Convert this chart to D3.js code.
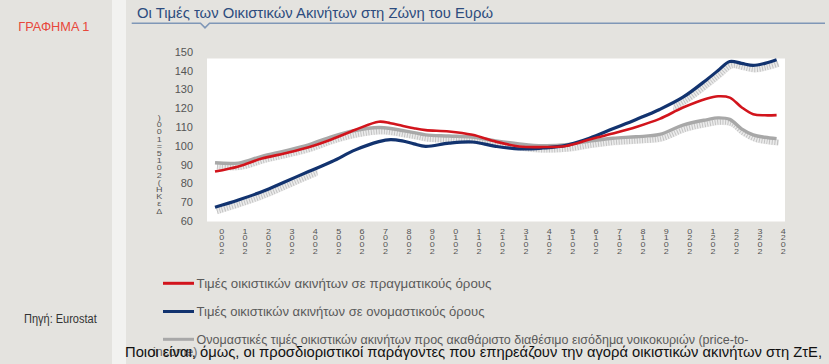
<!DOCTYPE html>
<html><head><meta charset="utf-8">
<script src="https://cdn.jsdelivr.net/npm/d3@7/dist/d3.min.js"></script>
<style>
html,body{margin:0;padding:0;background:#e4e3df;}
svg{display:block;font-family:"Liberation Sans",Arial,sans-serif;}
</style></head>
<body>
<svg id="c" width="829" height="364"></svg>
<script>
// ---- data ----
const periods = [2000,2001,2002,2003,2004,2005,2006,2007,2007.5,2008,2008.5,2009,2010,2011,2012,2013,2014,2015,2016,2017,2018,2019,2020,2021,2021.5,2022,2022.5,2023,2023.5,2024];
const realPrices = [86.3,89.0,93.2,96.0,99.2,103.5,108.5,112.8,112.0,110.6,109.3,108.3,107.6,105.8,102.2,99.6,99.3,99.9,103.3,106.5,110.0,114.3,120.3,125.0,126.3,125.6,120.5,116.8,116.2,116.3];
const nominalPrices = [67.3,71.2,75.6,80.9,86.3,91.6,97.8,102.2,103.3,102.6,101.0,99.7,101.4,102.0,99.7,98.3,98.8,100.2,104.0,109.0,114.0,119.3,125.8,135.0,140.0,144.8,143.8,142.7,143.8,145.7];
const priceToIncome = [91.0,90.8,94.4,97.3,100.5,104.9,108.1,109.7,109.2,108.1,107.0,105.8,105.2,104.6,102.6,101.0,100.0,100.5,102.5,104.0,104.8,106.0,111.0,113.8,114.8,114.0,109.0,105.8,104.5,103.8];
const yTicks = [60,70,80,90,100,110,120,130,140,150];
const yearLabels = ["2000","2001","2002","2003","2004","2005","2006","2007","2008","2009","2010","2011","2012","2013","2014","2015","2016","2017","2018","2019","2020","2021","2022","2023","2024"];
const yAxisLabel = "ΔεΚΗ(2015=100)";
const legendLabels = [
  "Τιμές οικιστικών ακινήτων σε πραγματικούς όρους",
  "Τιμές οικιστικών ακινήτων σε ονομαστικούς όρους",
  "Ονομαστικές τιμές οικιστικών ακινήτων προς ακαθάριστο διαθέσιμο εισόδημα νοικοκυριών (price-to-"
];
const legendWrap = "income)";
const titleText = "Οι Τιμές των Οικιστικών Ακινήτων στη Ζώνη του Ευρώ";
const chartNo = "ΓΡΑΦΗΜΑ 1";
const sourceText = "Πηγή: Eurostat";
const bodyText = "Ποιοι είναι, όμως, οι προσδιοριστικοί παράγοντες που επηρεάζουν την αγορά οικιστικών ακινήτων στη ΖτΕ,";

// ---- layout ----
const svg = d3.select("#c");
const colors = {red:"#d2141c", blue:"#12336f", gray:"#a8a8a8"};

svg.append("rect").attr("width",829).attr("height",364).attr("fill","#e4e3df");
svg.append("rect").attr("x",112).attr("y",0).attr("width",14).attr("height",364).attr("fill","#f2f2f0");

// header
svg.append("text").attr("x",18.3).attr("y",31).attr("fill","#e8473a").attr("font-size",13.5)
  .attr("textLength",71).attr("lengthAdjust","spacingAndGlyphs").text(chartNo);
svg.append("text").attr("x",137).attr("y",18).attr("fill","#2d4c7e").attr("font-size",15)
  .attr("textLength",356).attr("lengthAdjust","spacingAndGlyphs").text(titleText);
svg.append("path").attr("d","M131.7,23.3H200.5L205,27.8L209.5,23.3H825")
  .attr("fill","none").attr("stroke","#7f97b7").attr("stroke-width",1.6);

// plot area
svg.append("rect").attr("x",207).attr("y",58.5).attr("width",578).attr("height",163).attr("fill","#ffffff");

const x = d3.scaleLinear().domain([2000,2024]).range([215,776.6]);
const y = d3.scaleLinear().domain([60,150]).range([221,51.7]);

// y axis
const yAxis = d3.axisLeft(y).tickValues(yTicks).tickSize(0).tickPadding(14);
const gy = svg.append("g").attr("transform","translate(207,0)").call(yAxis);
gy.select(".domain").remove();
gy.selectAll("text").attr("font-size",11).attr("fill","#555").attr("font-family","Liberation Sans, Arial, sans-serif");

// stacked upright characters, read bottom-to-top
function stacked(parent, str, cx, yTop, step){
  str.split("").reverse().forEach((ch,j)=>{
    parent.append("text")
      .attr("transform","translate("+cx+","+(yTop+j*step)+") scale(1,0.7)")
      .attr("font-size",9).attr("fill","#555").attr("text-anchor","middle").text(ch);
  });
}
const gx = svg.append("g");
yearLabels.forEach(lab=>stacked(gx, lab, x(+lab)+6.7, 233.5, 6.8));
stacked(svg.append("g"), yAxisLabel, 159.3, 120, 7.2);

// lines
const line = d3.line().x((d,i)=>x(periods[i])).y(d=>y(d)).curve(d3.curveCatmullRom.alpha(0.5));
const defs = svg.append("defs");
function clip(id, t0, t1){
  defs.append("clipPath").attr("id",id).append("rect")
    .attr("x",x(t0)).attr("y",40).attr("width",x(t1)-x(t0)).attr("height",200);
  return "url(#"+id+")";
}
function shadow(data, clipUrl){
  const g = svg.append("g").attr("transform","translate(2,4)");
  if(clipUrl) g.attr("clip-path",clipUrl);
  g.append("path").attr("d",line(data)).attr("fill","none").attr("stroke","#ececec").attr("stroke-width",6);
  g.append("path").attr("d",line(data)).attr("fill","none").attr("stroke","#c2c2c2").attr("stroke-width",5.5)
    .attr("stroke-dasharray","1,1.6");
}
shadow(priceToIncome, null);
shadow(nominalPrices, clip("c1",1999.6,2004.3));
shadow(nominalPrices, clip("c2",2019.5,2024.5));

svg.append("path").attr("d",line(priceToIncome)).attr("fill","none").attr("stroke",colors.gray).attr("stroke-width",3.4);
svg.append("path").attr("d",line(nominalPrices)).attr("fill","none").attr("stroke",colors.blue).attr("stroke-width",3.2);
svg.append("path").attr("d",line(realPrices)).attr("fill","none").attr("stroke",colors.red).attr("stroke-width",2.6);

// legend
const legY = [283.3,311.5,339.3];
const legW = [295,288,552];
const legC = [colors.red, colors.blue, colors.gray];
legendLabels.forEach((lab,i)=>{
  svg.append("line").attr("x1",163).attr("x2",194).attr("y1",legY[i]).attr("y2",legY[i])
    .attr("stroke",legC[i]).attr("stroke-width",3);
  svg.append("text").attr("x",196.5).attr("y",legY[i]+4.2).attr("font-size",12.5).attr("fill","#5a5a5a")
    .attr("textLength",legW[i]).attr("lengthAdjust","spacingAndGlyphs").text(lab);
});
svg.append("text").attr("x",153).attr("y",356).attr("font-size",12.5).attr("fill","#6a6a6a").text(legendWrap);

svg.append("text").attr("x",24).attr("y",323).attr("font-size",12).attr("fill","#333")
  .attr("textLength",72.7).attr("lengthAdjust","spacingAndGlyphs").text(sourceText);

svg.append("text").attr("x",125).attr("y",357).attr("font-size",14.5).attr("fill","#111")
  .attr("textLength",697).attr("lengthAdjust","spacingAndGlyphs").text(bodyText);
</script>
</body></html>
